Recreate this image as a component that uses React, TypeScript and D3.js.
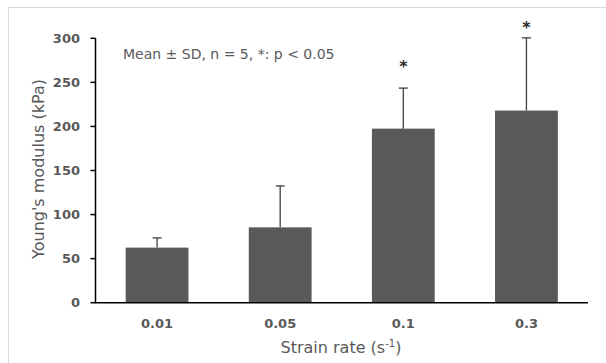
import React from "react";
import * as d3 from "d3";

const categories = ["0.01", "0.05", "0.1", "0.3"];
const means = [62.5, 85.5, 197.5, 218];
const sds = [11, 47, 46, 82.5];
const starValues = [null, null, 270, 314];
const yTicks = [0, 50, 100, 150, 200, 250, 300];

const W = 606;
const H = 363;
const x0 = 95.5;
const x1 = 588;
const yTop = 38.3;
const yBot = 302.7;
const FONT = "DejaVu Sans, Verdana, sans-serif";

export default function App() {
  const x = d3.scaleBand<string>().domain(categories).range([x0, x1]).paddingInner(0.49).paddingOuter(0.245);
  const y = d3.scaleLinear().domain([0, 300]).range([yBot, yTop]);
  const gray = "#595959";
  return (
    <svg width={W} height={H} style={{ position: "absolute", left: 0, top: 0 }}>
      <rect x={0} y={0} width={W} height={H} fill="#fff" />
      <rect x={8.5} y={7.5} width={W + 10} height={H + 10} fill="#fff" stroke="#d9d9d9" strokeWidth={1} />
      {categories.map((c, i) => {
        const cx = x(c)! + x.bandwidth() / 2;
        const sv = starValues[i];
        return (
          <g key={c}>
            <rect x={x(c)} y={y(means[i])} width={x.bandwidth()} height={y(0) - y(means[i])} fill={gray} />
            <line x1={cx} x2={cx} y1={y(means[i])} y2={y(means[i] + sds[i])} stroke="#404040" strokeWidth={1.3} />
            <line x1={cx - 4.5} x2={cx + 4.5} y1={y(means[i] + sds[i])} y2={y(means[i] + sds[i])} stroke="#404040" strokeWidth={1.3} />
            {sv !== null && (
              <text x={cx} y={y(sv)} dy={7} textAnchor="middle" fontFamily={FONT} fontWeight="bold" fontSize={16} fill="#262626">*</text>
            )}
            <text x={cx} y={328} textAnchor="middle" fontFamily={FONT} fontWeight="bold" fontSize={13} fill={gray}>{c}</text>
          </g>
        );
      })}
      <line x1={x0} x2={x0} y1={yTop} y2={yBot} stroke="#000" strokeWidth={1.5} />
      <line x1={x0 - 0.75} x2={x1} y1={yBot} y2={yBot} stroke="#000" strokeWidth={1.5} />
      {yTicks.map((t) => (
        <g key={t}>
          <line x1={x0 - 5} x2={x0} y1={y(t)} y2={y(t)} stroke="#000" strokeWidth={1.5} />
          <text x={80} y={y(t)} dy="0.36em" textAnchor="end" fontFamily={FONT} fontWeight="bold" fontSize={13} fill={gray}>{t}</text>
        </g>
      ))}
      <text x={123} y={59} fontFamily={FONT} fontSize={14} fill={gray}>Mean ± SD, n = 5, *: p &lt; 0.05</text>
      <text transform={`translate(44,169) rotate(-90)`} textAnchor="middle" fontFamily={FONT} fontSize={16} fill={gray}>Young's modulus (kPa)</text>
      <text x={341} y={353} textAnchor="middle" fontFamily={FONT} fontSize={16} fill={gray}>
        Strain rate (s<tspan dy={-6} fontSize={10}>-1</tspan><tspan dy={6}>)</tspan>
      </text>
    </svg>
  );
}
